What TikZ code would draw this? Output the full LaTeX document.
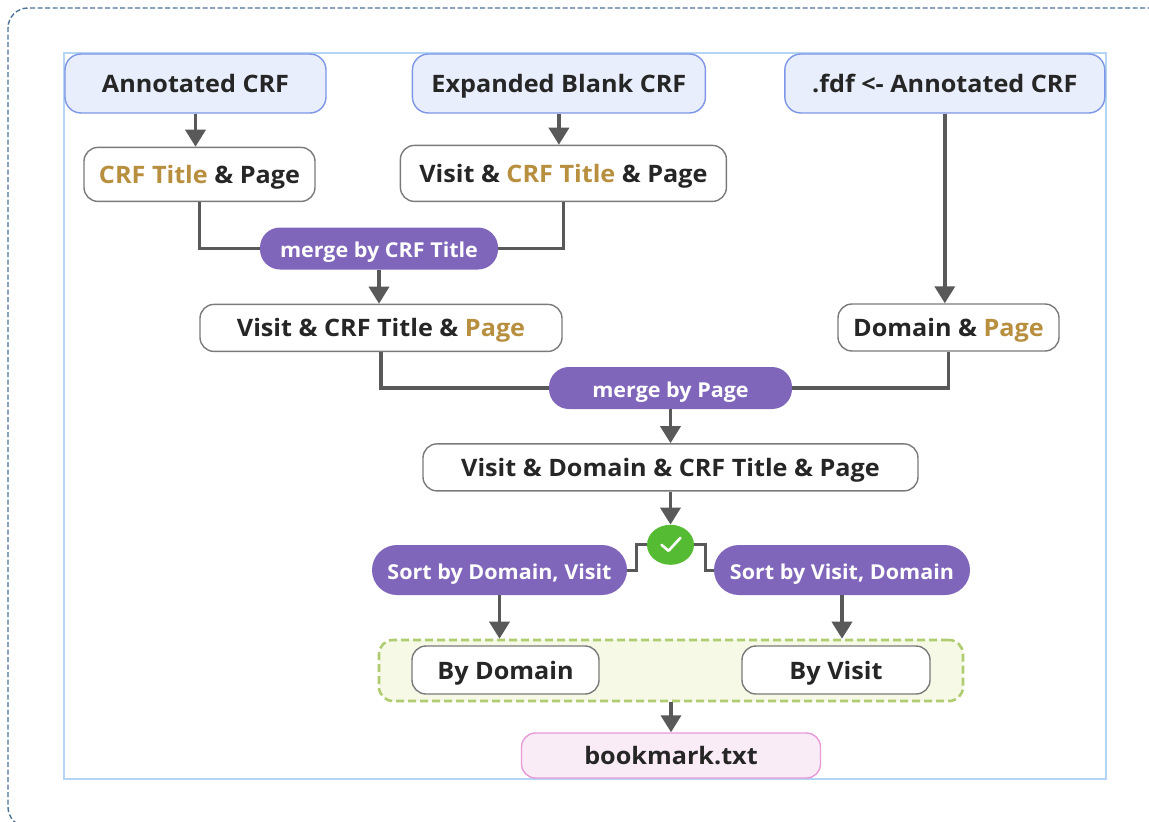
\documentclass[tikz,border=0pt]{standalone}
\usepackage{fontspec}
\setmainfont[FakeStretch=1.05]{Open Sans}
\usepackage{tikz}
\usetikzlibrary{shapes.geometric, arrows.meta, positioning}
\definecolor{inkgray}{HTML}{262626}
\definecolor{linegray}{HTML}{595959}
\definecolor{boxgray}{HTML}{7A7A7A}
\definecolor{crfgold}{HTML}{B88F3F}
\definecolor{mergepurple}{HTML}{8066BB}
\definecolor{okgreen}{HTML}{55BB33}
\definecolor{framedash}{HTML}{4F7396}
\definecolor{frameblue}{HTML}{B5D5F5}
\definecolor{sourceblue}{HTML}{7D96E6}
\definecolor{sourcefill}{HTML}{E8EEFB}
\definecolor{groupgreen}{HTML}{B0CC70}
\definecolor{groupfill}{HTML}{F6F9E6}
\definecolor{outpink}{HTML}{E89AD8}
\definecolor{outfill}{HTML}{F9ECF7}

\begin{document}
\begin{tikzpicture}[
    x=1pt, y=-1pt,
    every node/.style={font=\fontsize{24}{28}\selectfont\bfseries, text=inkgray, inner sep=0pt,
                       text height=18pt, text depth=0pt},
    source/.style={draw=sourceblue, line width=1.4pt, fill=sourcefill, rounded corners=16pt,
                   minimum width=#1, minimum height=59pt},
    datatable/.style={draw=boxgray, line width=1.4pt, fill=white, rounded corners=14pt,
                  minimum width=#1, minimum height=47pt},
    action/.style={fill=mergepurple, text=white, rounded corners=20pt, minimum width=#1, minimum height=42pt,
                   font=\fontsize{20.5}{24}\selectfont\bfseries, text height=18pt},
    flow/.style={draw=linegray, line width=3.6pt, -{Triangle[length=17pt, width=20pt]}},
    link/.style={draw=linegray, line width=3.6pt}
]
    \useasboundingbox (0,0) rectangle (1149,822);
    \draw[framedash, line width=1.4pt, dash pattern=on 5pt off 2.5pt, rounded corners=20pt]
        (1160,8) -- (8,8) -- (8,827) -- (40,827);
    \draw[frameblue, line width=1.5pt] (64,53) rectangle (1106,779);

    % inputs
    \node[source=261pt] (annotated) at (195.5,83.5) {Annotated CRF};
    \node[source=293pt, right=85pt of annotated] (expanded) {Expanded Blank CRF};
    \node[source=320pt, right=78pt of expanded] (fdf) {.fdf <- Annotated CRF};

    \node[datatable=231pt, minimum height=54pt, below=33pt of annotated, xshift=4pt] (crftitle)
        {\textcolor{crfgold}{CRF Title} \& Page};
    \node[datatable=326pt, minimum height=56pt, below=31pt of expanded, xshift=4.5pt] (visitcrf)
        {Visit \& \textcolor{crfgold}{CRF Title} \& Page};
    \node[action=238pt] (mergetitle) at (379,248.5) {merge by CRF Title};
    \node[datatable=362pt, below=34pt of mergetitle, xshift=2pt] (visitpage)
        {Visit \& CRF Title \& \textcolor{crfgold}{Page}};
    \node[datatable=221pt] (domainpage) at (948.5,327.5) {Domain \& \textcolor{crfgold}{Page}};
    \node[action=243pt] (mergepage) at (670.5,388) {merge by Page};
    \node[datatable=495pt, below=34pt of mergepage] (alltable) {Visit \& Domain \& CRF Title \& Page};

    \node[ellipse, fill=okgreen, minimum width=47pt, minimum height=40pt, below=33pt of alltable] (check) {};
    \draw[white, line width=2.6pt, line cap=round, line join=round]
        ([shift={(-9pt,0pt)}]check.center) -- ([shift={(-2pt,-6pt)}]check.center) -- ([shift={(10pt,7pt)}]check.center);

    \node[action=255pt, minimum height=50pt, rounded corners=25pt] (sortdomain) at (499.5,570) {Sort by Domain, Visit};
    \node[action=256pt, minimum height=50pt, rounded corners=25pt] (sortvisit) at (842,570) {Sort by Visit, Domain};

    % group box goes behind its two tables
    \node[draw=groupgreen, line width=2.6pt, dash pattern=on 8pt off 4pt, fill=groupfill, rounded corners=14pt,
          minimum width=584pt, minimum height=61pt] (results) at (671,670.5) {};
    \node[datatable=187pt, minimum height=48pt] (bydomain) at (505.5,670) {By Domain};
    \node[datatable=188pt, minimum height=48pt] (byvisit) at (836,670) {By Visit};
    \node[draw=outpink, line width=1.4pt, fill=outfill, rounded corners=14pt,
          minimum width=299pt, minimum height=45pt, below=30pt of results] (bookmark) {bookmark.txt};

    \coordinate (turnleft) at (636,570);
    \coordinate (turnright) at (705,570);

    \draw[flow] (annotated) -- (annotated |- crftitle.north);
    \draw[flow] (expanded) -- (expanded |- visitcrf.north);
    \draw[flow] (fdf) -- (fdf |- domainpage.north);
    \draw[link] (crftitle.south) |- (mergetitle.west);
    \draw[link] (visitcrf.south) |- (mergetitle.east);
    \draw[flow] (mergetitle.south) -- (mergetitle |- visitpage.north);
    \draw[link] (visitpage.south) |- (mergepage.west);
    \draw[link] (domainpage.south) |- (mergepage.east);
    \draw[flow] (mergepage) -- (alltable);
    \draw[flow] (alltable) -- (check);
    \draw[link, line width=3pt] (check.west) -| (turnleft) -- (sortdomain.east);
    \draw[link, line width=3pt] (check.east) -| (turnright) -- (sortvisit.west);
    \draw[flow] (sortdomain) -- (sortdomain |- results.north);
    \draw[flow] (sortvisit) -- (sortvisit |- results.north);
    \draw[flow] (results) -- (bookmark);
\end{tikzpicture}
\end{document}
